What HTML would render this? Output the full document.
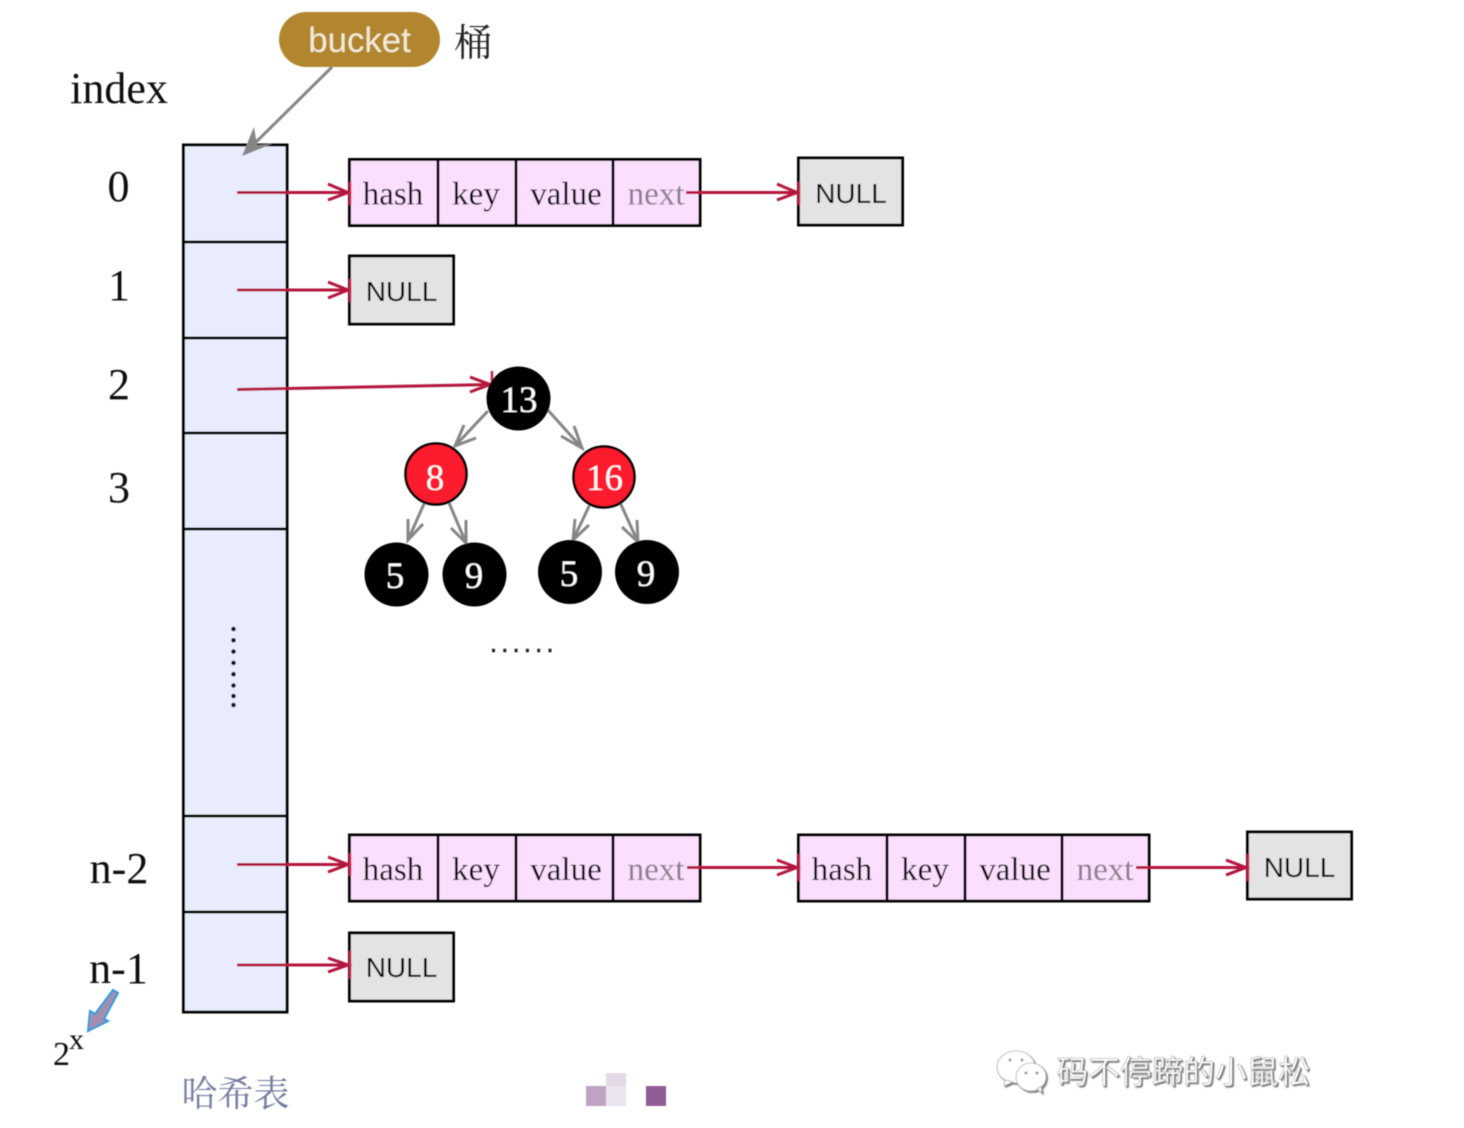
<!DOCTYPE html>
<html>
<head>
<meta charset="utf-8">
<style>
html,body{margin:0;padding:0;background:#fff;width:1464px;height:1128px;overflow:hidden}
svg{display:block}
.s{font-family:"Liberation Serif","Noto Serif CJK SC",serif}
.a{font-family:"Liberation Sans",sans-serif}
.box{stroke:#000;stroke-width:3;fill:#fbdffe}
.nul{stroke:#000;stroke-width:3;fill:#e3e3e3}
.tb{stroke:#000;stroke-width:3;fill:#e9ecfc}
.r{stroke:#b4163c;stroke-width:3;fill:none}
.g{stroke:#868686;stroke-width:3;fill:none}
.rec{font-size:33px;fill:#0a0a0a;text-anchor:middle}
.nx{fill:#8b7f8c}
.nt{font-size:28px;fill:#000;text-anchor:middle}
.idx{font-size:44px;fill:#0a0a0a;text-anchor:middle}
</style>
</head>
<body>
<svg width="1464" height="1128" viewBox="0 0 1464 1128" xmlns="http://www.w3.org/2000/svg">
<defs>
<filter id="b" filterUnits="userSpaceOnUse" x="0" y="0" width="1464" height="1128"><feGaussianBlur stdDeviation="0.45"/></filter>
<filter id="sh" filterUnits="userSpaceOnUse" x="980" y="1030" width="350" height="80"><feDropShadow dx="1.5" dy="1.5" stdDeviation="0.6" flood-color="#777"/></filter>
<g id="rec">
<rect class="box" x="349.500" y="0" width="350.500" height="66"/>
<path d="M438 0V66M516 0V66M613 0V66" stroke="#000" stroke-width="3" fill="none"/>
<text class="s rec" x="393" y="45">hash</text>
<text class="s rec" x="476" y="45">key</text>
<text class="s rec" x="566" y="45">value</text>
<text class="s rec nx" x="656" y="45">next</text>
</g>
</defs>
<g filter="url(#b)">
<!-- bucket -->
<rect x="279" y="12" width="161" height="55" rx="27.500" fill="#b1862e"/>
<text class="a" x="359.500" y="52" font-size="34.800" fill="#f3ead6" text-anchor="middle">bucket</text>
<text class="s" x="473" y="56" font-size="38" fill="#222" text-anchor="middle">桶</text>
<text class="s idx" x="119" y="103">index</text>

<!-- table -->
<rect class="tb" x="183.500" y="145" width="103.500" height="867"/>
<path d="M183 242H287M183 338H287M183 433H287M183 529H287M183 816H287M183 912H287" stroke="#000" stroke-width="3" fill="none"/>
<g fill="#111">
<circle cx="233.500" cy="629" r="2.300"/><circle cx="233.500" cy="640.300" r="2.300"/><circle cx="233.500" cy="651.600" r="2.300"/><circle cx="233.500" cy="662.900" r="2.300"/><circle cx="233.500" cy="674.200" r="2.300"/><circle cx="233.500" cy="685.500" r="2.300"/><circle cx="233.500" cy="696" r="2.300"/><circle cx="233.500" cy="705" r="2.300"/>
</g>

<text class="s idx" x="118.500" y="201">0</text>
<text class="s idx" x="119" y="300">1</text>
<text class="s idx" x="119" y="399">2</text>
<text class="s idx" x="119" y="502">3</text>
<text class="s idx" x="119" y="883">n-2</text>
<text class="s idx" x="118.500" y="983">n-1</text>
<text class="s" x="53" y="1065" font-size="34" fill="#111">2</text>
<text class="s" x="69" y="1049" font-size="30" fill="#111">x</text>

<!-- bucket arrow -->
<path d="M332 67L250 148" stroke="#868686" stroke-width="3" fill="none"/>
<path d="M242 156L254 127L257 145L272 144Z" fill="#868686"/>

<!-- row 0 -->
<g transform="translate(0,159.500)"><use href="#rec"/></g>
<rect class="nul" x="798.500" y="158" width="104" height="67"/>
<text class="a nt" x="851" y="203">NULL</text>
<path class="r" d="M237 192.500H348M328 184L348 192.500L328 200"/>
<path d="M350 182V205" stroke="#c81e46" stroke-width="2.500"/>
<path class="r" d="M686 192.500H797M777 184L797 192.500L777 200"/>
<path d="M799 182V205" stroke="#c81e46" stroke-width="2.500"/>

<!-- row 1 -->
<rect class="nul" x="349.500" y="256" width="104" height="68"/>
<text class="a nt" x="401.500" y="301">NULL</text>
<path class="r" d="M237 290H348M328 282L348 290L328 298"/>
<path d="M350 279V302" stroke="#c81e46" stroke-width="2.500"/>

<!-- tree arrow -->
<path class="r" d="M237 389.500L490 384.500M470 377L490 384.500L470 392"/>
<path d="M492 371V392" stroke="#c81e46" stroke-width="2.500"/>

<!-- tree edges -->
<path class="g" d="M488 411L455 446M464 425L455 446L476 438"/>
<path class="g" d="M546 408L582 448M561 436L582 448L574 426"/>
<path class="g" d="M427 497L408 540M408 519L408 540L423 524"/>
<path class="g" d="M447 498L466 543M451 528L466 543L466 520"/>
<path class="g" d="M593 498L573 540M575 519L573 540L589 525"/>
<path class="g" d="M618 498L638 542M622 527L638 542L637 520"/>

<!-- tree nodes -->
<circle cx="518.500" cy="398.500" r="32" fill="#000"/>
<circle cx="436" cy="474" r="30.500" fill="#fc1a2e" stroke="#000" stroke-width="2.500"/>
<circle cx="604" cy="477" r="30.500" fill="#fc1a2e" stroke="#000" stroke-width="2.500"/>
<circle cx="396.500" cy="574.500" r="32" fill="#000"/>
<circle cx="474.500" cy="574.500" r="32" fill="#000"/>
<circle cx="570" cy="572" r="32" fill="#000"/>
<circle cx="647" cy="572" r="32" fill="#000"/>
<g class="s" font-size="37" fill="#fff" text-anchor="middle">
<text x="519" y="412">13</text>
<text x="435" y="490">8</text>
<text x="604.500" y="490">16</text>
<text x="395" y="588">5</text>
<text x="474" y="588">9</text>
<text x="569" y="586">5</text>
<text x="646" y="586">9</text>
</g>
<path d="M492 650.500H552" stroke="#222" stroke-width="3.500" stroke-dasharray="3 8.300" fill="none"/>

<!-- row n-2 -->
<g transform="translate(0,835)"><use href="#rec"/></g>
<g transform="translate(449,835)"><use href="#rec"/></g>
<rect class="nul" x="1247.500" y="832" width="104" height="67"/>
<text class="a nt" x="1299.500" y="877">NULL</text>
<path class="r" d="M237 864.500H348M328 857L348 864.500L328 872"/>
<path d="M350 853V876" stroke="#c81e46" stroke-width="2.500"/>
<path class="r" d="M687 867.500H797M777 860L797 867.500L777 875"/>
<path d="M799 854V881" stroke="#c81e46" stroke-width="2.500"/>
<path class="r" d="M1136 867.500H1246M1226 860L1246 867.500L1226 875"/>
<path d="M1248 854V881" stroke="#c81e46" stroke-width="2.500"/>

<!-- row n-1 -->
<rect class="nul" x="349.500" y="933" width="104" height="68"/>
<text class="a nt" x="401.500" y="977">NULL</text>
<path class="r" d="M237 965H348M328 958L348 965L328 972"/>
<path d="M350 951V979" stroke="#c81e46" stroke-width="2.500"/>

<!-- 2^x arrow -->
<path d="M113 990L118 993L104 1019L108 1021L88 1031L90 1011L95 1014Z" fill="#a48eb0" stroke="#2f9bd8" stroke-width="2"/>

<!-- caption -->
<text class="s" x="235.500" y="1106" font-size="36" fill="#737a9e" text-anchor="middle">哈希表</text>

<!-- pixels -->
<rect x="586" y="1086" width="20" height="20" fill="#c0a2c4"/>
<rect x="606" y="1073" width="20" height="13" fill="#e3d8e8"/>
<rect x="606" y="1086" width="20" height="20" fill="#ebe3ef"/>
<rect x="646" y="1086" width="20" height="20" fill="#8f5b94"/>

<!-- watermark -->
<g filter="url(#sh)" fill="#fff" stroke="#aaa" stroke-width="0.800">
<ellipse cx="1016" cy="1067" rx="19" ry="16"/>
<path d="M1005 1080L1004 1086L1013 1082Z"/>
<ellipse cx="1031" cy="1077" rx="15" ry="14"/>
<path d="M1037 1089L1042 1093L1041 1086Z"/>
</g>
<g fill="#999"><circle cx="1010" cy="1060" r="1.500"/><circle cx="1022" cy="1060" r="1.500"/><circle cx="1026" cy="1073" r="1.500"/><circle cx="1037" cy="1073" r="1.500"/></g>
<text filter="url(#sh)" x="1056.500" y="1083" font-family="'Noto Sans CJK SC',sans-serif" font-size="31.700" fill="#fff" stroke="#999" stroke-width="0.500">码不停蹄的小鼠松</text>
</g>
</svg>
</body>
</html>
